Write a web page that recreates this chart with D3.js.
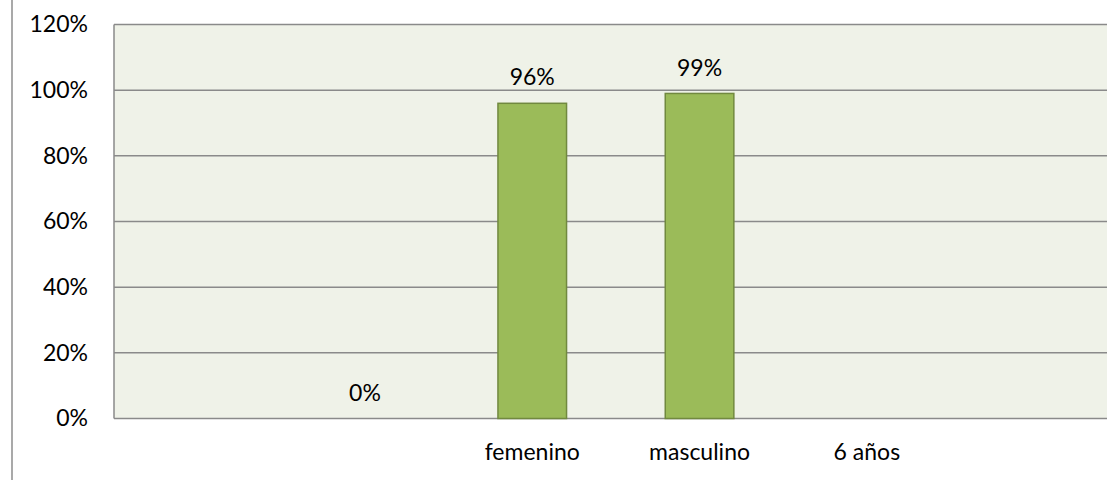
<!DOCTYPE html>
<html>
<head>
<meta charset="utf-8">
<script src="https://cdn.jsdelivr.net/npm/d3@7"></script>
<style>
  body { margin: 0; background: #fff; }
  text { font-family: Lato, "Open Sans", sans-serif; fill: #000; }
</style>
</head>
<body>
<div id="chart"></div>
<script>
// data
var categories = ["", " ", "femenino", "masculino", "6 años", "  "];
var values = [null, 0, 0.96, 0.99, null, null];
var yTicks = [0, 0.2, 0.4, 0.6, 0.8, 1.0, 1.2];

var svgWidth = 1107;
var svgHeight = 480;
var fontSize = "23px";

var margin = { top: 24.5, left: 114, bottom: 61.5 };
var bandW = 167.3;
var width = bandW * categories.length;
var height = svgHeight - margin.top - margin.bottom;

var svg = d3.select("#chart").append("svg")
  .attr("width", svgWidth)
  .attr("height", svgHeight);

// outer chart border (only left edge visible)
svg.append("line")
  .attr("x1", 12).attr("x2", 12)
  .attr("y1", 0).attr("y2", svgHeight)
  .attr("stroke", "#8c8c8c")
  .attr("stroke-width", 1.5);

var chartGroup = svg.append("g")
  .attr("transform", `translate(${margin.left}, ${margin.top})`);

var x = d3.scaleBand()
  .domain(categories)
  .range([0, width])
  .paddingInner(0.59)
  .paddingOuter(0.295);

var y = d3.scaleLinear()
  .domain([0, 1.2])
  .range([height, 0]);

// plot background
chartGroup.append("rect")
  .attr("x", 0).attr("y", 0)
  .attr("width", width).attr("height", height)
  .attr("fill", "#eff2e8");

// gridlines
chartGroup.selectAll(".grid")
  .data(yTicks)
  .enter()
  .append("line")
  .attr("x1", 0).attr("x2", width)
  .attr("y1", d => y(d)).attr("y2", d => y(d))
  .attr("stroke", "#8a8a8a")
  .attr("stroke-width", 1.5);

// left edge of plot
chartGroup.append("line")
  .attr("x1", 0).attr("x2", 0)
  .attr("y1", 0).attr("y2", height)
  .attr("stroke", "#8a8a8a")
  .attr("stroke-width", 1.5);

// y axis labels
var leftAxis = d3.axisLeft(y)
  .tickValues(yTicks)
  .tickFormat(d3.format(".0%"))
  .tickSize(0)
  .tickPadding(26);

var yAxis = chartGroup.append("g").call(leftAxis);
yAxis.select(".domain").remove();
yAxis.selectAll("text")
  .style("font-size", fontSize)
  .style("font-family", "Lato, 'Open Sans', sans-serif")
  .attr("fill", "#000");

// x axis labels
var bottomAxis = d3.axisBottom(x).tickSize(0).tickPadding(25);
var xAxis = chartGroup.append("g")
  .attr("transform", `translate(0, ${height})`)
  .call(bottomAxis);
xAxis.select(".domain").remove();
xAxis.selectAll("text")
  .style("font-size", fontSize)
  .style("font-family", "Lato, 'Open Sans', sans-serif")
  .attr("fill", "#000");

var data = categories.map((c, i) => ({ cat: c, value: values[i] }))
  .filter(d => d.value !== null);

// bars
chartGroup.selectAll(".bar")
  .data(data.filter(d => d.value > 0))
  .enter()
  .append("rect")
  .attr("x", d => x(d.cat))
  .attr("y", d => y(d.value))
  .attr("width", x.bandwidth())
  .attr("height", d => height - y(d.value))
  .attr("fill", "#9bbb59")
  .attr("stroke", "#71893f")
  .attr("stroke-width", 1.5);

// data labels
chartGroup.selectAll(".lbl")
  .data(data)
  .enter()
  .append("text")
  .attr("x", d => x(d.cat) + x.bandwidth() / 2)
  .attr("y", d => y(d.value) - 26)
  .attr("dy", "0.35em")
  .attr("text-anchor", "middle")
  .style("font-size", fontSize)
  .text(d => d3.format(".0%")(d.value));
</script>
</body>
</html>
